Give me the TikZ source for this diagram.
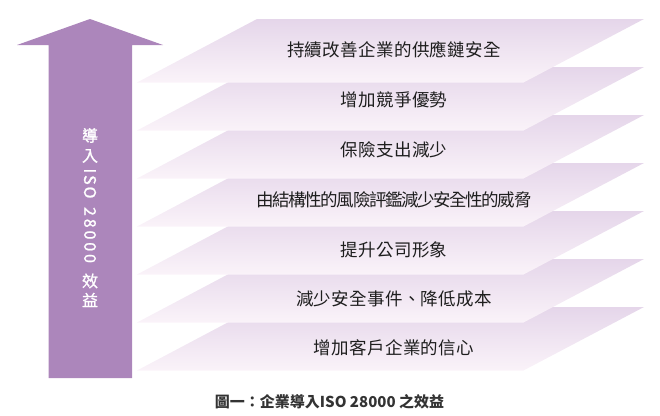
\documentclass[tikz,border=0pt]{standalone}
\usepackage{fontspec}
\setmainfont{Noto Sans CJK TC}
\newfontfamily\cjk{Noto Sans CJK TC}
\newfontfamily\cjkheavy[FakeBold=1.2]{Noto Sans CJK TC}
\definecolor{arrowpurple}{RGB}{172,134,187}
\definecolor{layertop}{RGB}{229,214,234}
\definecolor{layerbot}{RGB}{250,243,249}
\definecolor{textdark}{RGB}{30,30,30}
\definecolor{captiongray}{RGB}{51,51,51}
\tikzset{
  layerlabel/.style={text=textdark, font=\cjk\fontsize{17.5}{20}\selectfont, inner sep=0pt, anchor=center},
  arrowlabel/.style={text=white, font=\cjkheavy\fontsize{16}{18}\selectfont, inner sep=0pt, anchor=center},
  captionlabel/.style={text=captiongray, font=\cjk\bfseries\fontsize{15}{18}\selectfont, inner sep=0pt, anchor=center}
}
\begin{document}
\begin{tikzpicture}[x=1pt,y=-1pt]
\useasboundingbox (0,0) rectangle (660,415);
% big arrow
\fill[arrowpurple] (48.5,378) -- (48.5,45) -- (17,45) -- (90,19) -- (163,45) -- (132,45) -- (132,378) -- cycle;
% layers, bottom first so that upper ones are in front
\foreach \i in {6,5,4,3,2,1,0}{
  \pgfmathsetmacro{\t}{19+48*\i}
  \pgfmathsetmacro{\b}{\t+63.5}
  \shade[top color=layertop, bottom color=layerbot] (257,\t) -- (644,\t) -- (523.5,\b) -- (137,\b) -- cycle;
}
% layer texts
\node[layerlabel] (t1) at (394,50) {\addfontfeature{LetterSpace=2}持續改善企業的供應鏈安全};
\node[layerlabel] (t2) at (394,100) {\addfontfeature{LetterSpace=2}增加競爭優勢};
\node[layerlabel] (t3) at (394,150) {\addfontfeature{LetterSpace=2}保險支出減少};
\node[layerlabel] (t4) at (394,200) {\addfontfeature{LetterSpace=-8}由結構性的風險評鑑減少安全性的威脅};
\node[layerlabel] (t5) at (394,249.5) {\addfontfeature{LetterSpace=2}提升公司形象};
\node[layerlabel] (t6) at (394,299) {\addfontfeature{LetterSpace=2}減少安全事件、降低成本};
\node[layerlabel] (t7) at (394,348) {\addfontfeature{LetterSpace=2}增加客戶企業的信心};
% arrow text (vertical)
\node[arrowlabel] (a1) at (90,135.5) {導};
\node[arrowlabel] (a2) at (90,156) {入};
\node[arrowlabel, rotate=-90] (a3) at (90,183.5) {\addfontfeature{LetterSpace=12}ISO};
\node[arrowlabel, rotate=-90] (a4) at (90,235) {\addfontfeature{LetterSpace=18}28000};
\node[arrowlabel] (a5) at (90,281) {效};
\node[arrowlabel] (a6) at (90,300) {益};
% caption
\node[captionlabel] (cap) at (329.5,402) {圖一：企業導入ISO 28000 之效益};
\end{tikzpicture}
\end{document}
